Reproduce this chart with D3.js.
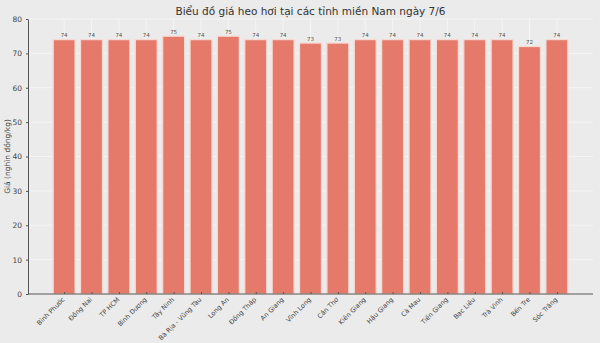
<!DOCTYPE html>
<html><head><meta charset="utf-8">
<script src="https://cdn.jsdelivr.net/npm/d3@7"></script>
<style>
html,body{margin:0;padding:0;background:#ebebeb;}
text{font-family:"DejaVu Sans",sans-serif;}
</style></head>
<body>
<svg id="c" width="600" height="343"></svg>
<script>
const provinces = ["Bình Phước","Đồng Nai","TP HCM","Bình Dương","Tây Ninh","Bà Rịa - Vũng Tàu","Long An","Đồng Tháp","An Giang","Vĩnh Long","Cần Thơ","Kiên Giang","Hậu Giang","Cà Mau","Tiền Giang","Bạc Liêu","Trà Vinh","Bến Tre","Sóc Trăng"];
const prices = [74,74,74,74,75,74,75,74,74,73,73,74,74,74,74,74,74,72,74];
const yTicks = [0,10,20,30,40,50,60,70,80];
const title = "Biểu đồ giá heo hơi tại các tỉnh miền Nam ngày 7/6";
const yLabel = "Giá (nghìn đồng/kg)";

const svg = d3.select("#c");
const L = 28, R = 593, T = 19, B = 294;
svg.append("rect").attr("width",600).attr("height",343).attr("fill","#ebebeb");

const x = d3.scaleLinear().domain([-1.32, provinces.length - 1 + 1.32]).range([L, R]);
const y = d3.scaleLinear().domain([0, 80]).range([B, T]);
const bw = x(0.8) - x(0);

// grid
const g = svg.append("g");
g.selectAll("line.h").data(yTicks).join("line")
  .attr("x1", L).attr("x2", R).attr("y1", d => y(d)).attr("y2", d => y(d))
  .attr("stroke", "#f6f6f6").attr("stroke-width", 0.8);
g.selectAll("line.v").data(provinces).join("line")
  .attr("x1", (d,i) => x(i)).attr("x2", (d,i) => x(i)).attr("y1", T).attr("y2", B)
  .attr("stroke", "#f6f6f6").attr("stroke-width", 0.8);

// bars
svg.append("g").selectAll("rect").data(prices).join("rect")
  .attr("x", (d,i) => x(i) - bw/2).attr("width", bw)
  .attr("y", d => y(d)).attr("height", d => B - y(d))
  .attr("fill", "#e57a6a").attr("stroke", "#f7d9d3").attr("stroke-width", 1.2);

// value labels
svg.append("g").selectAll("text").data(prices).join("text")
  .attr("x", (d,i) => x(i)).attr("y", d => y(d) - 2.5)
  .attr("text-anchor", "middle").attr("font-size", 5.5).attr("fill", "#555")
  .text(d => d);

// x axis
const xa = d3.axisBottom(x).tickValues(d3.range(provinces.length))
  .tickFormat("").tickSize(-2).tickSizeOuter(0);
const xg = svg.append("g").attr("transform", `translate(0,${B})`).call(xa);
xg.select(".domain").attr("d", `M${L},0H${R}`).attr("stroke", "#555").attr("stroke-width", 1);
xg.selectAll(".tick line").attr("stroke", "#555");

svg.append("g").selectAll("text").data(provinces).join("text")
  .attr("transform", (d,i) => `translate(${x(i) + 1},${B + 6}) rotate(-45)`)
  .attr("text-anchor", "end")
  .attr("font-size", 6.5).attr("fill", "#444")
  .text(d => d);

// y axis
const ya = d3.axisLeft(y).tickValues(yTicks).tickSize(2).tickSizeOuter(0).tickPadding(4);
const yg = svg.append("g").attr("transform", `translate(${L},0)`).call(ya);
yg.select(".domain").attr("stroke", "#555").attr("stroke-width", 1);
yg.selectAll(".tick line").attr("stroke", "#555");
yg.selectAll(".tick text").attr("font-size", 7.5).attr("fill", "#444");

// title
svg.append("text").attr("x", (L + R) / 2).attr("y", 15).attr("text-anchor", "middle")
  .attr("font-size", 10.5).attr("fill", "#333").text(title);

// y label
svg.append("text").attr("transform", `translate(10,${(T + B) / 2}) rotate(-90)`)
  .attr("text-anchor", "middle").attr("font-size", 7.5).attr("fill", "#444").text(yLabel);
</script>
</body></html>
